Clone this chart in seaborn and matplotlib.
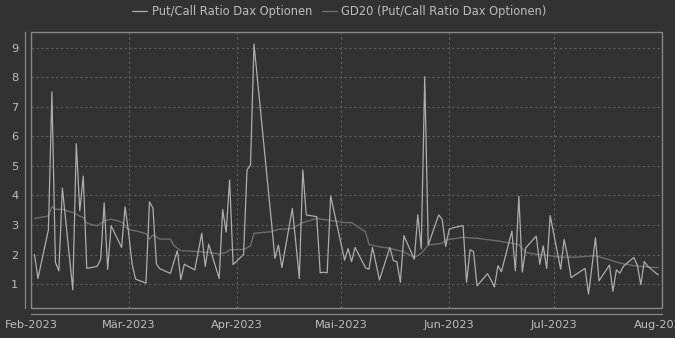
import matplotlib
matplotlib.use("Agg")
import matplotlib.pyplot as plt
import matplotlib.dates as mdates
from matplotlib.patches import Rectangle
import pandas as pd
import seaborn as sns

# ---------------- data ----------------
pc_dates = [
    "2023-02-02", "2023-02-03", "2023-02-06", "2023-02-07", "2023-02-08", "2023-02-09", "2023-02-10",
    "2023-02-13", "2023-02-14", "2023-02-15", "2023-02-16", "2023-02-17", "2023-02-20", "2023-02-21",
    "2023-02-22", "2023-02-23", "2023-02-24", "2023-02-27", "2023-02-28",
    "2023-03-01", "2023-03-02", "2023-03-03", "2023-03-06", "2023-03-07", "2023-03-08", "2023-03-09",
    "2023-03-10", "2023-03-13", "2023-03-14", "2023-03-15", "2023-03-16", "2023-03-17", "2023-03-20",
    "2023-03-21", "2023-03-22", "2023-03-23", "2023-03-24", "2023-03-27", "2023-03-28", "2023-03-29",
    "2023-03-30", "2023-03-31",
    "2023-04-03", "2023-04-04", "2023-04-05", "2023-04-06", "2023-04-11", "2023-04-12", "2023-04-13",
    "2023-04-14", "2023-04-17", "2023-04-18", "2023-04-19", "2023-04-20", "2023-04-21", "2023-04-24",
    "2023-04-25", "2023-04-26", "2023-04-27", "2023-04-28",
    "2023-05-02", "2023-05-03", "2023-05-04", "2023-05-05", "2023-05-08", "2023-05-09", "2023-05-10",
    "2023-05-11", "2023-05-12", "2023-05-15", "2023-05-16", "2023-05-17", "2023-05-18", "2023-05-19",
    "2023-05-22", "2023-05-23", "2023-05-24", "2023-05-25", "2023-05-26", "2023-05-29", "2023-05-30",
    "2023-05-31",
    "2023-06-01", "2023-06-02", "2023-06-05", "2023-06-06", "2023-06-07", "2023-06-08", "2023-06-09",
    "2023-06-12", "2023-06-13", "2023-06-14", "2023-06-15", "2023-06-16", "2023-06-19", "2023-06-20",
    "2023-06-21", "2023-06-22", "2023-06-23", "2023-06-26", "2023-06-27", "2023-06-28", "2023-06-29",
    "2023-06-30",
    "2023-07-03", "2023-07-04", "2023-07-05", "2023-07-06", "2023-07-07", "2023-07-10", "2023-07-11",
    "2023-07-12", "2023-07-13", "2023-07-14", "2023-07-17", "2023-07-18", "2023-07-19", "2023-07-20",
    "2023-07-21", "2023-07-24", "2023-07-25", "2023-07-26", "2023-07-27", "2023-07-28", "2023-07-31",
]
pc_values = [
    2.00, 1.19, 2.84, 7.50, 1.74, 1.45, 4.25,
    0.80, 5.75, 3.48, 4.65, 1.53, 1.60, 1.84,
    3.75, 1.50, 2.97, 2.24, 3.61,
    2.75, 1.68, 1.17, 1.03, 3.78, 3.57, 1.67,
    1.52, 1.36, 1.75, 2.13, 1.15, 1.67, 1.48,
    2.10, 2.72, 1.60, 2.35, 1.19, 3.52, 2.76,
    4.52, 1.66,
    2.00, 4.86, 5.03, 9.12, 3.10, 1.87, 2.32,
    1.56, 3.56, 2.40, 1.19, 4.86, 3.34, 3.28,
    1.38, 1.40, 1.38, 3.98,
    1.81, 2.20, 1.76, 2.24, 1.55, 1.50, 2.24,
    1.70, 1.14, 2.24, 1.79, 1.76, 1.06, 2.64,
    1.84, 3.34, 2.20, 8.02, 2.32, 3.34, 3.19,
    2.27,
    2.85, 2.90, 2.98, 1.06, 2.16, 2.10, 0.94,
    1.35, 1.15, 0.90, 1.62, 1.42, 2.79, 1.45,
    3.97, 1.41, 2.23, 2.62, 1.67, 2.29, 1.53,
    3.32,
    1.50, 2.51, 1.95, 1.22, 1.30, 1.53, 0.66,
    1.60, 2.57, 1.11, 1.64, 0.76, 1.48, 1.37,
    1.60, 1.90, 1.64, 0.98, 1.76, 1.60, 1.31,
]

gd_dates = [
    "2023-02-02", "2023-02-06", "2023-02-07", "2023-02-08", "2023-02-10", "2023-02-13", "2023-02-15",
    "2023-02-16", "2023-02-17", "2023-02-20", "2023-02-22", "2023-02-24", "2023-02-27", "2023-03-01",
    "2023-03-03", "2023-03-06", "2023-03-07", "2023-03-08", "2023-03-10", "2023-03-13", "2023-03-14",
    "2023-03-16", "2023-03-21", "2023-03-24", "2023-03-27", "2023-03-29", "2023-03-30", "2023-04-03",
    "2023-04-05", "2023-04-06", "2023-04-11", "2023-04-13", "2023-04-17", "2023-04-20", "2023-04-24",
    "2023-04-27", "2023-05-02", "2023-05-04", "2023-05-08", "2023-05-09", "2023-05-12", "2023-05-15",
    "2023-05-19", "2023-05-22", "2023-05-24", "2023-05-26", "2023-05-30", "2023-05-31", "2023-06-05",
    "2023-06-09", "2023-06-15", "2023-06-19", "2023-06-21", "2023-06-23", "2023-06-27", "2023-06-30",
    "2023-07-03", "2023-07-07", "2023-07-13", "2023-07-17", "2023-07-20", "2023-07-24", "2023-07-31",
]
gd_values = [
    3.22, 3.30, 3.62, 3.53, 3.53, 3.42, 3.30,
    3.25, 3.06, 2.97, 3.14, 3.20, 3.10, 2.84,
    2.80, 2.71, 2.52, 2.66, 2.52, 2.52, 2.30,
    2.13, 2.10, 2.07, 2.02, 2.07, 2.16, 2.17,
    2.29, 2.72, 2.77, 2.85, 2.88, 3.08, 3.22,
    3.17, 3.08, 3.08, 2.77, 2.34, 2.26, 2.21,
    2.09, 1.90, 2.04, 2.32, 2.38, 2.49, 2.58,
    2.55, 2.46, 2.38, 2.33, 2.07, 1.99, 1.96,
    1.91, 1.91, 1.96, 1.82, 1.71, 1.62, 1.55,
]

series_names = ["Put/Call Ratio Dax Optionen", "GD20 (Put/Call Ratio Dax Optionen)"]
month_ticks = ["2023-02-01", "2023-03-01", "2023-04-01", "2023-05-01",
               "2023-06-01", "2023-07-01", "2023-08-01"]
month_labels = ["Feb-2023", "Mär-2023", "Apr-2023", "Mai-2023",
                "Jun-2023", "Jul-2023", "Aug-2023"]
y_ticks = [1, 2, 3, 4, 5, 6, 7, 8, 9]

# ---------------- style ----------------
BG = "#323232"
TXT = "#bdbdbd"
GRID = "#5d5d5d"
FRAME = "#878787"
C_PC = "#adadad"
C_GD = "#6d6d6d"

sns.set_style("dark")
plt.rcParams["font.family"] = ["DejaVu Sans"]

df_pc = pd.DataFrame({"date": pd.to_datetime(pc_dates), "value": pc_values})
df_gd = pd.DataFrame({"date": pd.to_datetime(gd_dates), "value": gd_values})

W, H = 675, 338
fig = plt.figure(figsize=(W / 100, H / 100), dpi=100, facecolor=BG)
L, R, T, B = 31, 661.7, 32, 308.0
ax = fig.add_axes([L / W, 1 - B / H, (R - L) / W, (B - T) / H])
ax.set_facecolor(BG)

sns.lineplot(data=df_gd, x="date", y="value", ax=ax, color=C_GD, linewidth=1.0,
             label=series_names[1], zorder=3)
sns.lineplot(data=df_pc, x="date", y="value", ax=ax, color=C_PC, linewidth=0.9,
             label=series_names[0], zorder=4)

ax.set_xlim(pd.Timestamp(month_ticks[0]), pd.Timestamp(month_ticks[-1]))
ax.set_ylim(0.19, 9.53)
ax.set_xticks([mdates.date2num(pd.Timestamp(d)) for d in month_ticks])
ax.set_xticklabels(month_labels)
ax.set_yticks(y_ticks)
ax.set_yticklabels([str(v) for v in y_ticks])
ax.set_xlabel("")
ax.set_ylabel("")

ax.grid(True, color=GRID, linestyle=(0, (2.2, 2.2)), linewidth=0.8)
ax.set_axisbelow(True)

for s in ["top", "right"]:
    ax.spines[s].set_visible(False)
for s in ["left", "bottom"]:
    ax.spines[s].set_visible(True)
    ax.spines[s].set_position(("outward", 4))
    ax.spines[s].set_color(FRAME)
    ax.spines[s].set_linewidth(0.9)

ax.add_patch(Rectangle((0, 0), 1, 1, transform=ax.transAxes, fill=False,
                       edgecolor=FRAME, linewidth=1.0, zorder=5, clip_on=False))

ax.tick_params(axis="both", colors=FRAME, labelcolor=TXT, labelsize=8.2,
               length=2, width=0.8, direction="out")
ax.tick_params(axis="y", pad=3)
ax.tick_params(axis="x", pad=3)

handles, labels = ax.get_legend_handles_labels()
order = [labels.index(series_names[0]), labels.index(series_names[1])]
ax.get_legend().remove()
fig.legend([handles[i] for i in order], [labels[i] for i in order],
           loc="center", bbox_to_anchor=(0.503, 0.965), ncol=2, frameon=False,
           fontsize=8.3, labelcolor=TXT, handlelength=1.3, handletextpad=0.4,
           columnspacing=0.8)

fig.savefig("out.png", dpi=100, facecolor=BG)
